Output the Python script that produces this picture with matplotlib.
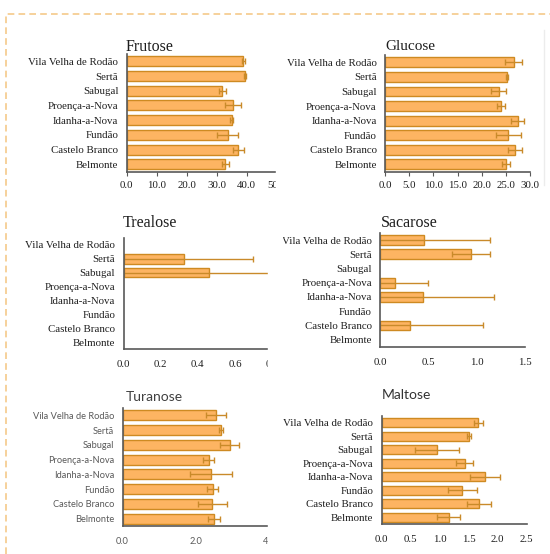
import numpy as np
import matplotlib
matplotlib.use("Agg")
import matplotlib.pyplot as plt
from matplotlib.patches import Rectangle
from matplotlib.lines import Line2D

# Sites (top to bottom)
sites = ["Vila Velha de Rodão", "Sertã", "Sabugal", "Proença-a-Nova",
         "Idanha-a-Nova", "Fundão", "Castelo Branco", "Belmonte"]

# Sugar contents (nan = not detected)
frutose = [38.9, 39.4, 31.9, 35.5, 35.0, 33.7, 37.2, 32.9]
frutose_err = [0.5, 0.3, 1.3, 2.6, 0.5, 3.5, 1.8, 1.3]

glucose = [26.6, 25.2, 23.5, 24.0, 27.4, 25.5, 26.9, 25.0]
glucose_err = [1.8, 0.3, 1.5, 0.8, 1.4, 2.6, 1.4, 0.8]

trealose = [np.nan, 0.327, 0.461, np.nan, np.nan, np.nan, np.nan, np.nan]
trealose_err = [np.nan, 0.37, 0.5, np.nan, np.nan, np.nan, np.nan, np.nan]

sacarose = [0.45, 0.94, np.nan, 0.153, 0.44, np.nan, 0.31, np.nan]
sacarose_err = [0.69, 0.20, np.nan, 0.34, 0.74, np.nan, 0.75, np.nan]

turanose = [2.55, 2.69, 2.93, 2.36, 2.41, 2.46, 2.45, 2.50]
turanose_err = [0.27, 0.05, 0.26, 0.15, 0.57, 0.15, 0.39, 0.16]

maltose = [1.67, 1.51, 0.95, 1.43, 1.78, 1.39, 1.68, 1.16]
maltose_err = [0.07, 0.03, 0.38, 0.14, 0.26, 0.25, 0.21, 0.20]

W, H = 550, 554
fig = plt.figure(figsize=(W / 100, H / 100), dpi=100)

SERIF = "Liberation Serif"
SANS = "Lato"
BAR = "#FDB462"
EDGE = "#CE8A22"
ERR = "#C98A2A"
SPINE = "#595959"


def px_axes(x0, y0, x1, y1):
    return fig.add_axes([x0 / W, 1 - y1 / H, (x1 - x0) / W, (y1 - y0) / H])


def panel(box, vals, errs, xmax, ticks, fmt, title, title_xy,
          font=SERIF, tfont=None, color="#1e1e1e", tcolor="#1e1e1e",
          fs=7.8, tfs=11.5, tick_marks=False):
    ax = px_axes(*box)
    y = np.arange(len(sites))
    ax.barh(y, vals, height=0.68, color=BAR, edgecolor=EDGE, linewidth=1.0)
    ax.errorbar(vals, y, xerr=errs, fmt="none", ecolor=ERR, elinewidth=1.0,
                capsize=2.5, capthick=1.0)
    ax.set_ylim(len(sites) - 0.5, -0.5)
    ax.set_xlim(0, xmax)
    ax.set_yticks(y)
    ax.set_yticklabels(sites, fontfamily=font, fontsize=fs, color=color)
    ax.set_xticks(ticks)
    ax.set_xticklabels([fmt.format(t) for t in ticks], fontfamily=font,
                       fontsize=fs, color=color)
    ax.tick_params(axis="y", length=0, pad=6)
    ax.tick_params(axis="x", length=3 if tick_marks else 0, color=SPINE,
                   pad=4 if tick_marks else 8)
    for s in ["top", "right"]:
        ax.spines[s].set_visible(False)
    for s in ["left", "bottom"]:
        ax.spines[s].set_color(SPINE)
        ax.spines[s].set_linewidth(1.2)
    ax.set_facecolor("none")
    fig.text(title_xy[0] / W, 1 - title_xy[1] / H, title,
             fontfamily=tfont or font, fontsize=tfs, color=tcolor,
             ha="left", va="center")
    return ax


# left column (cropped on the right like the original collage)
panel((126.7, 54, 277, 171.7), frutose, frutose_err, (277 - 126.7) / 3.0,
      [0, 10, 20, 30, 40, 50], "{:.1f}", "Frutose", (126, 46.7), tick_marks=True)
panel((123.5, 238, 277, 349), trealose, trealose_err, (277 - 123.5) / 186,
      [0, 0.2, 0.4, 0.6, 0.8], "{:.1f}", "Trealose", (123, 223))
panel((122.5, 408, 277, 526), turanose, turanose_err, (277 - 122.5) / 36.65,
      [0, 2, 4], "{:.1f}", "Turanose", (126, 396.7), font=SANS,
      color="#595959", tcolor="#404040", fs=6.7, tfs=10)

# right column
panel((385, 55, 530.2, 171.7), glucose, glucose_err, 30,
      [0, 5, 10, 15, 20, 25, 30], "{:.1f}", "Glucose", (385, 46),
      tfs=11, tick_marks=True)
panel((380.3, 233, 525, 346.7), sacarose, sacarose_err, 1.5,
      [0, 0.5, 1.0, 1.5], "{:.1f}", "Sacarose", (381, 223))
panel((381.5, 416, 526.7, 524), maltose, maltose_err, 2.5,
      [0, 0.5, 1.0, 1.5, 2.0, 2.5], "{:.1f}", "Maltose", (382, 394.7),
      tfont=SANS, tcolor="#333333", tfs=10)

# crop marks of the collage
fig.patches.append(Rectangle((275.5 / W, 1 - 200 / H), 10 / W, 180 / H,
                             transform=fig.transFigure, color="white", zorder=5))
fig.patches.append(Rectangle((267.8 / W, 0), 14 / W, 1 - 200 / H,
                             transform=fig.transFigure, color="white", zorder=5))
fig.lines.append(Line2D([6 / W, 6 / W, 1], [0, 1 - 14 / H, 1 - 14 / H],
                        transform=fig.transFigure, color="#F5C98A", lw=1.2,
                        ls=(0, (4, 2.5)), zorder=6))
fig.lines.append(Line2D([544 / W, 544 / W], [1 - 30 / H, 1 - 185 / H],
                        transform=fig.transFigure, color="#ECECEC", lw=1,
                        zorder=6))

fig.savefig("out.png", dpi=100)
